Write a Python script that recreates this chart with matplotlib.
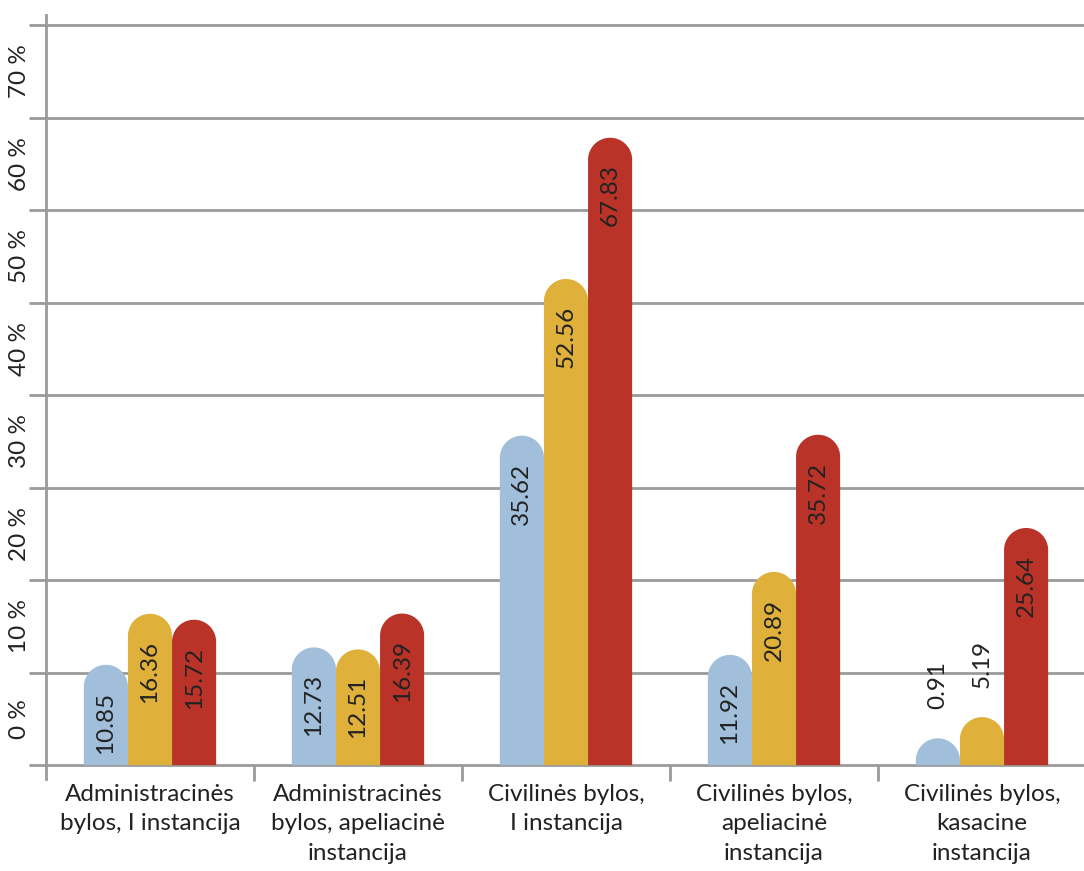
import numpy as np
import matplotlib.pyplot as plt
from matplotlib.patches import Polygon

plt.rcParams['font.family'] = ['Lato', 'DejaVu Sans']

categories = [
    "Administracinės\nbylos, I instancija",
    "Administracinės\nbylos, apeliacinė\ninstancija",
    "Civilinės bylos,\nI instancija",
    "Civilinės bylos,\napeliacinė\ninstancija",
    "Civilinės bylos,\nkasacine\ninstancija",
]
series_a = [10.85, 12.73, 35.62, 11.92, 0.91]
series_b = [16.36, 12.51, 52.56, 20.89, 5.19]
series_c = [15.72, 16.39, 67.83, 35.72, 25.64]
colors = ["#A1BFDB", "#DFB03A", "#BA3329"]
y_ticks = [0, 10, 20, 30, 40, 50, 60, 70, 80]
y_labels = ["0 %", "10 %", "20 %", "30 %", "40 %", "50 %", "60 %", "70 %"]

grid_c = "#9a9a9a"
text_c = "#222222"
fs = 17.5

fig = plt.figure(figsize=(10.84, 8.71), dpi=100)
ax = fig.add_axes([46 / 1084, 92 / 871, 1040 / 1084, 764 / 871])
ax.set_xlim(0, 5)
ax.set_ylim(-1.5, 81.1)

for s in ["top", "right", "bottom"]:
    ax.spines[s].set_visible(False)
ax.spines["left"].set_color(grid_c)
ax.spines["left"].set_linewidth(2.0)
ax.spines["left"].set_zorder(1)

# horizontal grid lines, sticking out a bit to the left of the axis
for t in y_ticks:
    ax.plot([-0.08, 5], [t, t], color=grid_c, lw=2.0, zorder=1, clip_on=False,
            solid_capstyle="butt")
ax.set_xticks([])
ax.set_yticks([])

# y labels sit between the grid lines
for t, lab in zip(y_ticks[:-1], y_labels):
    ax.text(-0.125, t + 5, lab, rotation=90, ha="center", va="center",
            fontsize=fs, color=text_c, clip_on=False)

# category separators below the axis
for i in range(1, 5):
    ax.plot([i, i], [-1.7, 0], color=grid_c, lw=2.0, clip_on=False,
            solid_capstyle="butt")

bw = 0.212
rx = bw / 2
ry = 22 / 9.25
min_top = 2.9
theta = np.linspace(0, np.pi, 40)

def rounded_bar(xc, v, color):
    top = max(v, min_top)
    base = max(top - ry, 0)
    h = top - base
    pts = [(xc - rx, 0), (xc + rx, 0), (xc + rx, base)]
    pts += [(xc + rx * np.cos(t), base + h * np.sin(t)) for t in theta]
    pts += [(xc - rx, base)]
    ax.add_patch(Polygon(pts, closed=True, facecolor=color, edgecolor="none",
                         zorder=3))
    return top

for i, cat in enumerate(categories):
    center = i + 0.5
    for j, vals in enumerate([series_a, series_b, series_c]):
        xc = center + (j - 1) * bw
        v = vals[i]
        top = rounded_bar(xc, v, colors[j])
        if v > 8:
            ax.text(xc, top - 2.9, f"{v:.2f}", rotation=90, rotation_mode="anchor",
                    ha="right", va="center", fontsize=fs, color=text_c, zorder=4)
        else:
            ax.text(xc, top + 3.2, f"{v:.2f}", rotation=90, rotation_mode="anchor",
                    ha="left", va="center", fontsize=fs, color=text_c, zorder=4)
    ax.text(center, -2.0, cat, ha="center", va="top", fontsize=fs,
            color=text_c, linespacing=1.5, clip_on=False)

fig.savefig("out.png", dpi=100)
